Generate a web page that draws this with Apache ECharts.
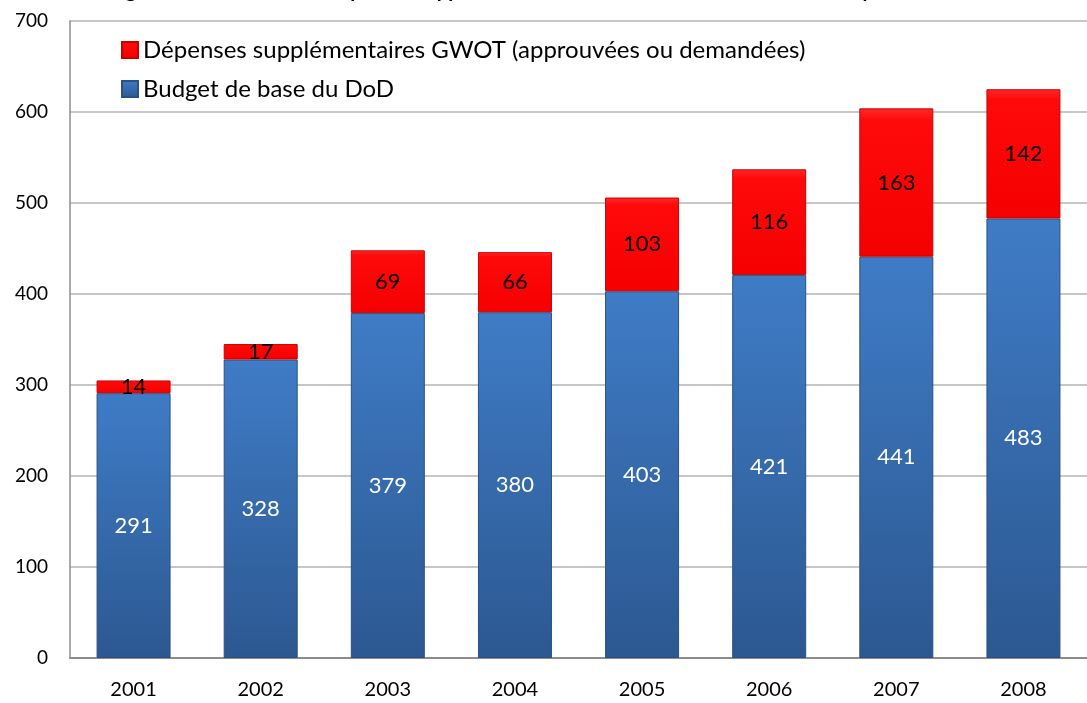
<!DOCTYPE html>
<html>
<head>
<meta charset="utf-8">
<script src="https://cdn.jsdelivr.net/npm/echarts@6/dist/echarts.min.js"></script>
<style>
  html, body { margin: 0; padding: 0; background: #fff; }
  #chart { width: 1087px; height: 703px; }
</style>
</head>
<body>
<div id="chart"></div>
<script>
const years = ["2001", "2002", "2003", "2004", "2005", "2006", "2007", "2008"];
const baseBudget = [291, 328, 379, 380, 403, 421, 441, 483];
const gwotExtra = [14, 17, 69, 66, 103, 116, 163, 142];
const seriesNames = [
  "Dépenses supplémentaires GWOT (approuvées ou demandées)",
  "Budget de base du DoD"
];
const titleText = "Budget de base du DoD et dépenses supplémentaires GWOT, exercices 2001-2008, en prix courants";

const font = "Lato, 'Open Sans', sans-serif";

const chart = echarts.init(document.getElementById("chart"));

const blueFill = new echarts.graphic.LinearGradient(0, 0, 0, 1, [
  { offset: 0, color: "#3f7cc6" },
  { offset: 1, color: "#2c5891" }
]);
const redFill = new echarts.graphic.LinearGradient(0, 0, 0, 1, [
  { offset: 0, color: "#ff2a2a" },
  { offset: 0.08, color: "#ff0a0a" },
  { offset: 1, color: "#f40000" }
]);

chart.setOption({
  animation: false,
  title: {
    text: titleText,
    left: 85,
    top: -24,
    textStyle: { fontFamily: font, fontWeight: "bold", fontSize: 20, color: "#000" }
  },
  legend: {
    data: seriesNames,
    orient: "vertical",
    left: 116,
    top: 33,
    itemWidth: 16,
    itemHeight: 16,
    itemGap: 15,
    icon: "rect",
    textStyle: { fontFamily: font, fontSize: 24, color: "#000" }
  },
  grid: { left: 70, right: -12, top: 21, bottom: 45 },
  xAxis: {
    type: "category",
    data: years,
    axisLine: { lineStyle: { color: "#8c8c8c", width: 2 } },
    axisTick: { show: false },
    axisLabel: { fontFamily: font, fontSize: 20, color: "#000", margin: 22 }
  },
  yAxis: {
    type: "value",
    min: 0,
    max: 700,
    interval: 100,
    axisLine: { show: true, lineStyle: { color: "#8c8c8c", width: 1.5 } },
    axisTick: { show: false },
    splitLine: { lineStyle: { color: "#b4b4b4", width: 1.5 } },
    axisLabel: { fontFamily: font, fontSize: 19, color: "#000", margin: 22 }
  },
  series: [
    {
      name: seriesNames[1],
      type: "bar",
      stack: "total",
      barWidth: 74,
      data: baseBudget,
      itemStyle: { color: blueFill, borderColor: "#2a5185", borderWidth: 1 },
      label: {
        show: true,
        position: "inside",
        color: "#fff",
        fontFamily: font,
        fontSize: 22
      }
    },
    {
      name: seriesNames[0],
      type: "bar",
      stack: "total",
      barWidth: 74,
      data: gwotExtra,
      itemStyle: { color: redFill, borderColor: "#c80000", borderWidth: 1 },
      label: {
        show: true,
        position: "inside",
        color: "#000",
        fontFamily: font,
        fontSize: 22
      }
    }
  ]
});
</script>
</body>
</html>
